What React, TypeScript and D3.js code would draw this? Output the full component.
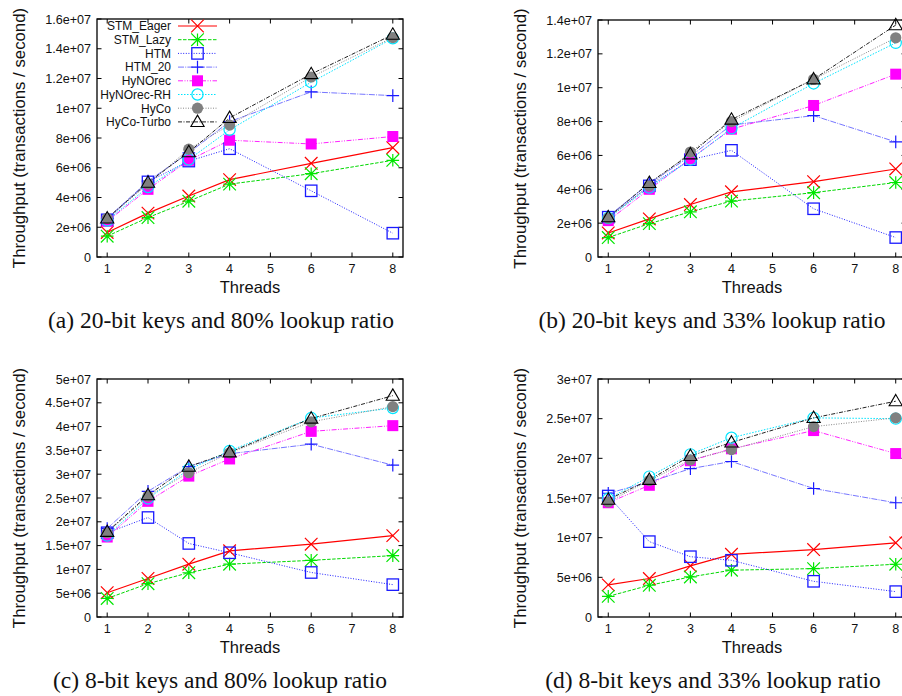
import React from "react";
import * as d3 from "d3";

// ---------------- data ----------------
const threads = [1, 2, 3, 4, 6, 8];
const xTickValues = [1, 2, 3, 4, 5, 6, 7, 8];
const seriesNames = ["STM_Eager", "STM_Lazy", "HTM", "HTM_20", "HyNOrec", "HyNOrec-RH", "HyCo", "HyCo-Turbo"];

// (a) 20-bit keys, 80% lookup
const a_STM_Eager = [1.65e6, 2.95e6, 4.1e6, 5.2e6, 6.3e6, 7.35e6];
const a_STM_Lazy = [1.4e6, 2.65e6, 3.75e6, 4.9e6, 5.6e6, 6.5e6];
const a_HTM = [2.5e6, 5.05e6, 6.45e6, 7.28e6, 4.45e6, 1.6e6];
const a_HTM_20 = [2.6e6, 5.1e6, 7.0e6, 9.1e6, 11.1e6, 10.85e6];
const a_HyNOrec = [2.4e6, 4.55e6, 6.5e6, 7.85e6, 7.6e6, 8.1e6];
const a_HyNOrecRH = [2.45e6, 4.7e6, 6.55e6, 8.55e6, 11.75e6, 14.7e6];
const a_HyCo = [2.6e6, 4.9e6, 7.25e6, 8.87e6, 12.1e6, 14.75e6];
const a_HyCoTurbo = [2.6e6, 5.0e6, 7.05e6, 9.35e6, 12.3e6, 14.95e6];

// (b) 20-bit keys, 33% lookup
const b_STM_Eager = [1.42e6, 2.25e6, 3.1e6, 3.85e6, 4.45e6, 5.2e6];
const b_STM_Lazy = [1.15e6, 1.97e6, 2.67e6, 3.3e6, 3.8e6, 4.4e6];
const b_HTM = [2.35e6, 4.2e6, 5.75e6, 6.3e6, 2.85e6, 1.15e6];
const b_HTM_20 = [2.4e6, 4.35e6, 5.95e6, 7.8e6, 8.35e6, 6.8e6];
const b_HyNOrec = [2.15e6, 4.0e6, 5.8e6, 7.55e6, 8.95e6, 10.8e6];
const b_HyNOrecRH = [2.3e6, 4.1e6, 5.75e6, 7.6e6, 10.25e6, 12.65e6];
const b_HyCo = [2.3e6, 4.2e6, 6.2e6, 8.0e6, 10.5e6, 12.95e6];
const b_HyCoTurbo = [2.35e6, 4.38e6, 6.07e6, 8.12e6, 10.5e6, 13.7e6];

// (c) 8-bit keys, 80% lookup
const c_STM_Eager = [5.1e6, 8.1e6, 11.1e6, 13.9e6, 15.3e6, 17.1e6];
const c_STM_Lazy = [3.9e6, 7.0e6, 9.3e6, 11.1e6, 11.9e6, 12.9e6];
const c_HTM = [17.7e6, 20.9e6, 15.45e6, 13.5e6, 9.35e6, 6.8e6];
const c_HTM_20 = [18.6e6, 26.4e6, 31.6e6, 34.3e6, 36.3e6, 31.9e6];
const c_HyNOrec = [16.8e6, 24.3e6, 29.6e6, 33.2e6, 39.0e6, 40.2e6];
const c_HyNOrecRH = [17.1e6, 24.9e6, 31.0e6, 34.9e6, 41.8e6, 43.9e6];
const c_HyCo = [17.7e6, 25.4e6, 30.3e6, 34.5e6, 41.0e6, 44.2e6];
const c_HyCoTurbo = [17.9e6, 25.6e6, 31.6e6, 34.6e6, 41.7e6, 46.5e6];

// (d) 8-bit keys, 33% lookup
const d_STM_Eager = [4.05e6, 4.85e6, 6.45e6, 7.9e6, 8.5e6, 9.35e6];
const d_STM_Lazy = [2.6e6, 4.0e6, 5.05e6, 5.9e6, 6.1e6, 6.65e6];
const d_HTM = [15.25e6, 9.5e6, 7.6e6, 7.15e6, 4.5e6, 3.2e6];
const d_HTM_20 = [15.6e6, 17.0e6, 18.7e6, 19.6e6, 16.2e6, 14.4e6];
const d_HyNOrec = [14.4e6, 16.6e6, 19.7e6, 21.2e6, 23.5e6, 20.6e6];
const d_HyNOrecRH = [14.9e6, 17.7e6, 20.5e6, 22.6e6, 25.1e6, 25.0e6];
const d_HyCo = [14.5e6, 17.2e6, 19.8e6, 21.1e6, 24.0e6, 25.1e6];
const d_HyCoTurbo = [14.8e6, 17.3e6, 20.3e6, 22.0e6, 25.1e6, 27.2e6];

// y tick values & labels
const yTicksA = [0, 2e6, 4e6, 6e6, 8e6, 1e7, 1.2e7, 1.4e7, 1.6e7];
const yLabelsA = ["0", "2e+06", "4e+06", "6e+06", "8e+06", "1e+07", "1.2e+07", "1.4e+07", "1.6e+07"];
const yTicksB = [0, 2e6, 4e6, 6e6, 8e6, 1e7, 1.2e7, 1.4e7];
const yLabelsB = ["0", "2e+06", "4e+06", "6e+06", "8e+06", "1e+07", "1.2e+07", "1.4e+07"];
const yTicksC = [0, 5e6, 1e7, 1.5e7, 2e7, 2.5e7, 3e7, 3.5e7, 4e7, 4.5e7, 5e7];
const yLabelsC = ["0", "5e+06", "1e+07", "1.5e+07", "2e+07", "2.5e+07", "3e+07", "3.5e+07", "4e+07", "4.5e+07", "5e+07"];
const yTicksD = [0, 5e6, 1e7, 1.5e7, 2e7, 2.5e7, 3e7];
const yLabelsD = ["0", "5e+06", "1e+07", "1.5e+07", "2e+07", "2.5e+07", "3e+07"];

const captions = [
  "(a) 20-bit keys and 80% lookup ratio",
  "(b) 20-bit keys and 33% lookup ratio",
  "(c) 8-bit keys and 80% lookup ratio",
  "(d) 8-bit keys and 33% lookup ratio",
];

// ---------------- styles ----------------
type St = { color: string; lineColor: string; dash: string; marker: string; w: number };
const styles: St[] = [
  { color: "#ff0000", lineColor: "#ff0000", dash: "", marker: "x", w: 1.2 },
  { color: "#00e600", lineColor: "#00d800", dash: "3.5,1.5", marker: "star", w: 1 },
  { color: "#1a1aff", lineColor: "#2020ff", dash: "1,1.6", marker: "square", w: 1 },
  { color: "#1a1aff", lineColor: "#7777ff", dash: "6,1.2,1,1.2", marker: "plus", w: 1 },
  { color: "#ff00ff", lineColor: "#ff22ff", dash: "5,1.5,1,1.5,1,1.5", marker: "fsquare", w: 1 },
  { color: "#00e5ff", lineColor: "#00e5ff", dash: "1.5,1.5", marker: "circle", w: 1 },
  { color: "#808080", lineColor: "#888888", dash: "1,1.5", marker: "fcircle", w: 1 },
  { color: "#000000", lineColor: "#222222", dash: "4,1.5,1,1.5", marker: "triangle", w: 1 },
];

const FONT = "'Liberation Sans', Arial, Helvetica, sans-serif";
const SERIF = "'Liberation Serif', 'Times New Roman', Times, serif";

function Marker({ kind, x, y, color }: { kind: string; x: number; y: number; color: string }) {
  const s = 6.3;
  const sw = 1.2;
  switch (kind) {
    case "x":
      return <path d={`M${x - s},${y - s}L${x + s},${y + s}M${x - s},${y + s}L${x + s},${y - s}`} stroke={color} strokeWidth={sw} fill="none" />;
    case "star":
      return (
        <path
          d={`M${x - s},${y - s}L${x + s},${y + s}M${x - s},${y + s}L${x + s},${y - s}M${x - s},${y}L${x + s},${y}M${x},${y - s}L${x},${y + s}`}
          stroke={color}
          strokeWidth={sw}
          fill="none"
        />
      );
    case "square":
      return <rect x={x - 5.7} y={y - 5.7} width={11.4} height={11.4} stroke={color} strokeWidth={1.3} fill="none" />;
    case "plus":
      return <path d={`M${x - s},${y}L${x + s},${y}M${x},${y - s}L${x},${y + s}`} stroke={color} strokeWidth={sw} fill="none" />;
    case "fsquare":
      return <rect x={x - 5.5} y={y - 5.5} width={11} height={11} fill={color} />;
    case "circle":
      return <circle cx={x} cy={y} r={5.6} stroke={color} strokeWidth={1.2} fill="none" />;
    case "fcircle":
      return <circle cx={x} cy={y} r={5.6} fill={color} />;
    case "triangle":
      return <path d={`M${x},${y - 6.8}L${x + 6.6},${y + 4.6}L${x - 6.6},${y + 4.6}Z`} stroke={color} strokeWidth={1.1} fill="none" />;
  }
  return null;
}

type PanelProps = {
  left: number;
  right: number;
  top: number;
  bottom: number;
  yMax: number;
  yTicks: number[];
  yLabels: string[];
  series: number[][];
  caption: string;
  captionX: number;
  legend?: boolean;
};

function Panel(p: PanelProps) {
  const x = d3.scaleLinear().domain([0.75, 8.25]).range([p.left, p.right]);
  const y = d3.scaleLinear().domain([0, p.yMax]).range([p.bottom, p.top]);
  const line = d3
    .line<number>()
    .x((_, i) => x(threads[i]))
    .y((v) => y(v));
  const tk = 4.5;
  const midY = (p.top + p.bottom) / 2;
  const midX = (p.left + p.right) / 2;
  return (
    <g>
      {p.yTicks.map((t, i) => (
        <g key={"y" + i}>
          <line x1={p.left} x2={p.left + tk} y1={y(t)} y2={y(t)} stroke="#000" strokeWidth={1} />
          <line x1={p.right} x2={p.right - tk} y1={y(t)} y2={y(t)} stroke="#000" strokeWidth={1} />
          <text x={p.left - 6} y={y(t)} dy="0.36em" textAnchor="end" fontSize={12.6} fontFamily={FONT} fill="#111">
            {p.yLabels[i]}
          </text>
        </g>
      ))}
      {xTickValues.map((t) => (
        <g key={"x" + t}>
          <line x1={x(t)} x2={x(t)} y1={p.bottom} y2={p.bottom - tk} stroke="#000" strokeWidth={1} />
          <line x1={x(t)} x2={x(t)} y1={p.top} y2={p.top + tk} stroke="#000" strokeWidth={1} />
          <text x={x(t)} y={p.bottom + 16} textAnchor="middle" fontSize={12.6} fontFamily={FONT} fill="#111">
            {t}
          </text>
        </g>
      ))}
      {p.series.map((vals, si) => (
        <path
          key={"l" + si}
          d={line(vals) || ""}
          fill="none"
          stroke={styles[si].lineColor}
          strokeWidth={styles[si].w}
          strokeDasharray={styles[si].dash || undefined}
        />
      ))}
      {p.series.map((vals, si) => (
        <g key={"m" + si}>
          {vals.map((v, i) => (
            <Marker key={i} kind={styles[si].marker} x={x(threads[i])} y={y(v)} color={styles[si].color} />
          ))}
        </g>
      ))}
      <rect x={p.left} y={p.top} width={p.right - p.left} height={p.bottom - p.top} fill="none" stroke="#000" strokeWidth={1.3} />
      {p.legend &&
        seriesNames.map((name, i) => {
          const ly = p.top + 7 + i * 13.7;
          const st = styles[i];
          return (
            <g key={"lg" + i}>
              <text x={p.left + 74} y={ly} dy="0.36em" textAnchor="end" fontSize={12} fontFamily={FONT} fill="#111">
                {name}
              </text>
              <line
                x1={p.left + 81}
                x2={p.left + 120}
                y1={ly}
                y2={ly}
                stroke={st.lineColor}
                strokeWidth={st.w}
                strokeDasharray={st.dash || undefined}
              />
              <Marker kind={st.marker} x={p.left + 100.5} y={ly} color={st.color} />
            </g>
          );
        })}
      <text
        transform={`translate(${p.left - 78},${midY}) rotate(-90)`}
        textAnchor="middle"
        dy="0.36em"
        fontSize={16.8}
        fontFamily={FONT}
        fill="#111"
      >
        Throughput (transactions / second)
      </text>
      <text x={midX} y={p.bottom + 36} textAnchor="middle" fontSize={16.5} fontFamily={FONT} fill="#111">
        Threads
      </text>
      <text x={p.captionX} y={p.bottom + 71} textAnchor="middle" fontSize={23.5} fontFamily={SERIF} fill="#111">
        {p.caption}
      </text>
    </g>
  );
}

export default function App() {
  const sa = [a_STM_Eager, a_STM_Lazy, a_HTM, a_HTM_20, a_HyNOrec, a_HyNOrecRH, a_HyCo, a_HyCoTurbo];
  const sb = [b_STM_Eager, b_STM_Lazy, b_HTM, b_HTM_20, b_HyNOrec, b_HyNOrecRH, b_HyCo, b_HyCoTurbo];
  const sc = [c_STM_Eager, c_STM_Lazy, c_HTM, c_HTM_20, c_HyNOrec, c_HyNOrecRH, c_HyCo, c_HyCoTurbo];
  const sd = [d_STM_Eager, d_STM_Lazy, d_HTM, d_HTM_20, d_HyNOrec, d_HyNOrecRH, d_HyCo, d_HyCoTurbo];
  return (
    <svg
      width={902}
      height={696}
      style={{ position: "absolute", left: 0, top: 0, background: "#fff" }}
      xmlns="http://www.w3.org/2000/svg"
    >
      <rect width={902} height={696} fill="#fff" />
      <Panel left={97} right={403} top={19} bottom={257} yMax={1.6e7} yTicks={yTicksA} yLabels={yLabelsA} series={sa} caption={captions[0]} captionX={221} legend />
      <Panel left={598} right={906} top={20} bottom={257} yMax={1.4e7} yTicks={yTicksB} yLabels={yLabelsB} series={sb} caption={captions[1]} captionX={712} />
      <Panel left={97} right={403} top={379} bottom={617} yMax={5e7} yTicks={yTicksC} yLabels={yLabelsC} series={sc} caption={captions[2]} captionX={220} />
      <Panel left={598} right={906} top={379} bottom={617} yMax={3e7} yTicks={yTicksD} yLabels={yLabelsD} series={sd} caption={captions[3]} captionX={713} />
    </svg>
  );
}
